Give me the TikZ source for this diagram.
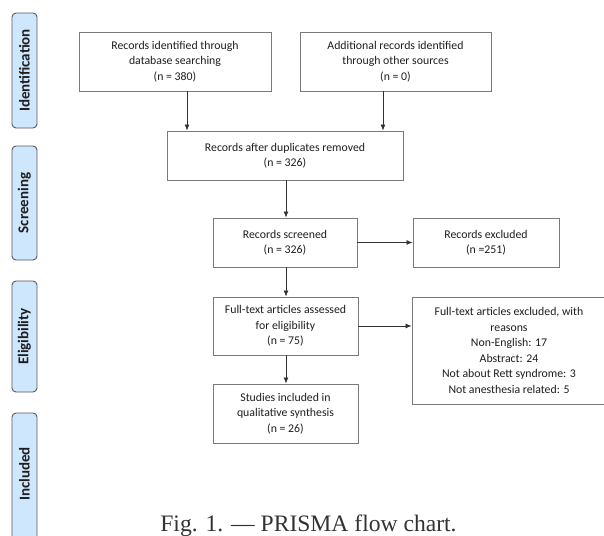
\documentclass[tikz,border=0pt]{standalone}
\usepackage{fontspec}
\setmainfont{Carlito}
\newfontfamily\capfont{Liberation Serif}
\usetikzlibrary{arrows.meta}
\definecolor{barfill}{HTML}{CFE7FC}
\definecolor{bordergray}{HTML}{7A7A7A}
\definecolor{txt}{HTML}{1E1E1E}
\tikzset{
  box/.style={draw=bordergray, line width=0.9pt, fill=white, align=center, inner sep=2pt,
    font=\fontsize{11.8}{15.5}\selectfont, text=txt},
  bar/.style={draw=black!65, line width=0.9pt, fill=barfill, rounded corners=4pt},
  barlabel/.style={rotate=90, font=\bfseries\fontsize{15}{17}\selectfont, text=txt},
  arr/.style={draw=black!80, line width=0.8pt, -{Latex[length=6pt,width=5pt]}}
}
\begin{document}
\begin{tikzpicture}[x=1pt,y=-1pt]
\useasboundingbox (0,0) rectangle (604,535);
% side bars
\draw[bar] (12,13) rectangle (37,128);
\node[barlabel] (l1) at (24.5,70.5) {Identification};
\draw[bar] (12,146) rectangle (37,260);
\node[barlabel] (l2) at (24.5,203) {Screening};
\draw[bar] (12,281) rectangle (37,392);
\node[barlabel] (l3) at (24.5,336.5) {Eligibility};
\draw[bar] (12,413) rectangle (37,545);
\node[barlabel] (l4) at (24.5,474) {Included};
% boxes
\node[box, minimum width=192pt, minimum height=59pt] (b1) at (175,61.5)
  {Records identified through\\database searching\\(n = 380)};
\node[box, minimum width=191pt, minimum height=59pt] (b2) at (395.5,61.5)
  {Additional records identified\\through other sources\\(n = 0)};
\node[box, minimum width=236pt, minimum height=49pt] (dup) at (285,155.5)
  {Records after duplicates removed\\(n = 326)};
\node[box, minimum width=144pt, minimum height=49pt] (scr) at (285,242.5)
  {Records screened\\(n = 326)};
\node[box, minimum width=146pt, minimum height=49pt] (exc) at (486,242.5)
  {Records excluded\\(n =251)};
\node[box, minimum width=145pt, minimum height=58pt] (ft) at (285.5,326)
  {Full-text articles assessed\\for eligibility\\(n = 75)};
\node[box, minimum width=194pt, minimum height=107pt] (rs) at (509,350.5)
  {Full-text articles excluded, with\\reasons\\Non-English: 17\\Abstract: 24\\Not about Rett syndrome: 3\\Not anesthesia related: 5};
\node[box, minimum width=145pt, minimum height=59pt] (st) at (285.5,413.5)
  {Studies included in\\qualitative synthesis\\(n = 26)};
% arrows
\coordinate (c1) at (187,0);
\coordinate (c2) at (383,0);
\coordinate (c3) at (286,0);
\draw[arr] (b1.south -| c1) -- (dup.north -| c1);
\draw[arr] (b2.south -| c2) -- (dup.north -| c2);
\draw[arr] (dup.south -| c3) -- (scr.north -| c3);
\draw[arr] (scr.south -| c3) -- (ft.north -| c3);
\draw[arr] (ft.south -| c3) -- (st.north -| c3);
\draw[arr] (scr.east) -- (exc.west);
\draw[arr] (ft.east) -- (rs.west |- ft.east);
% caption
\node[anchor=base, font=\capfont\fontsize{23.6}{26}\selectfont, text=black!80, inner sep=0pt] (cap) at (308.5,531)
  {Fig. 1. — PRISMA flow chart.};
\end{tikzpicture}
\end{document}
